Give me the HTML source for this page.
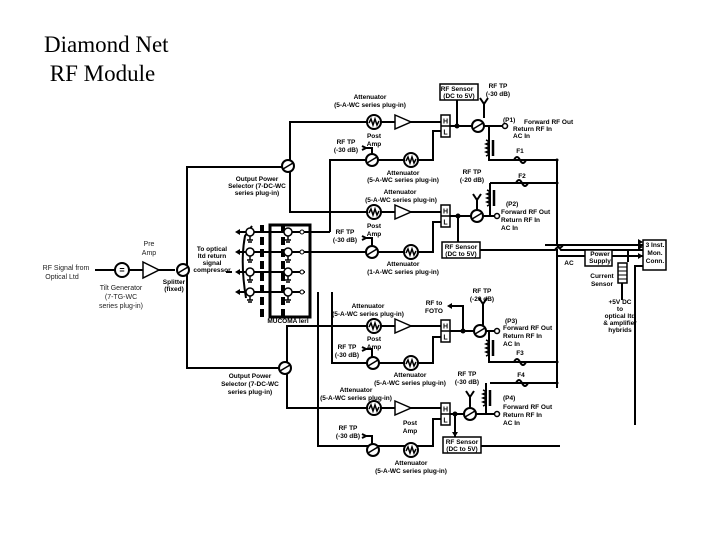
<!DOCTYPE html>
<html><head><style>
html,body{margin:0;padding:0;background:#fff;}
svg{display:block}
.t{font-family:"Liberation Sans",sans-serif;font-size:6.5px;font-weight:bold;fill:#000;text-anchor:middle}
.l{font-family:"Liberation Sans",sans-serif;font-size:7px;fill:#222;text-anchor:middle}
</style></head><body>
<svg width="720" height="540" viewBox="0 0 720 540" xmlns="http://www.w3.org/2000/svg">
<defs>
<g id="att"><circle r="7" fill="#fff" stroke="#000" stroke-width="2"/><path d="M-5,1 L-3,-3 L-1,3 L1,-3 L3,3 L5,-1" fill="none" stroke="#000" stroke-width="1.5"/></g>
<g id="cpl"><circle r="6" fill="#fff" stroke="#000" stroke-width="2"/><path d="M-5,3 L5,-3" stroke="#000" stroke-width="1.5"/></g>
<g id="amp"><path d="M0,-7 L16,0 L0,7 Z" fill="#fff" stroke="#000" stroke-width="1.5"/></g>
<g id="hl"><rect x="0" y="0" width="9" height="22" fill="#fff" stroke="#000" stroke-width="1.5"/><line x1="0" y1="11" x2="9" y2="11" stroke="#000" stroke-width="1.5"/><text x="4.5" y="8.5" class="t" style="font-size:7px">H</text><text x="4.5" y="19.5" class="t" style="font-size:7px">L</text></g>
<g id="coil"><path d="M0,0 q5,2 0,4 q5,2 0,4 q5,2 0,4 q5,2 0,4" fill="none" stroke="#000" stroke-width="1.5"/><line x1="7" y1="0" x2="7" y2="16" stroke="#000" stroke-width="2.5"/></g>
<g id="fuse"><path d="M-9,0 L-6,0 q3,-6 6,0 q3,6 6,0 L9,0" fill="none" stroke="#000" stroke-width="2"/></g>
<g id="sw"><circle cx="0" cy="0" r="4" fill="#fff" stroke="#000" stroke-width="1.5"/><path d="M0,4 L0,8 M-3,8 L3,8 M-2,10 L2,10" stroke="#000" stroke-width="1.5"/></g>
</defs>

<text x="44" y="52" style="font-family:'Liberation Serif',serif;font-size:23px">Diamond Net</text>
<text x="44" y="81" style="font-family:'Liberation Serif',serif;font-size:23px" xml:space="preserve"> RF Module</text>

<g stroke="#000" stroke-width="2" fill="none">
<path d="M95,270 L175,270"/>
<path d="M187,270 L187,167 L282,167"/>
<path d="M187,270 L187,368 L279,368"/>
<path d="M290,160 L290,122 L441,122"/>
<path d="M290,172 L290,212 L441,212"/>
<path d="M330,232 L330,160 L433,160 L433,131 L441,131"/>
<path d="M305,252 L433,252 L433,222 L441,222"/>
<path d="M450,126 L503,126"/>
<path d="M457,126 L457,100"/>
<path d="M484,118 L484,102 M480,98 L484,104 L488,98"/>
<path d="M489,126 L489,160 L557,160"/>
<path d="M490,183 L557,183"/>
<path d="M450,216 L495,216"/>
<path d="M490,216 L490,183"/>
<path d="M458,216 L458,242"/>
<path d="M477,210 L477,198 M473,194 L477,200 L481,194"/>
<path d="M557,160 L557,245 q3,5 6,0 L563,245"/>
<path d="M557,249 L557,388"/>
<path d="M480,250 L555,250 q3,-5 6,0 L643,250"/>
<path d="M545,245 L643,245"/>
<path d="M557,256 L585,256"/>
<path d="M612,256 L643,256"/>
<path d="M622,282 L622,300"/>
<path d="M628,262 L628,250 L643,250"/>
<path d="M635,425 L635,266 L643,266"/>
<path d="M287,362 L287,326 L441,326"/>
<path d="M287,374 L287,408 L441,408"/>
<path d="M332,292 L332,363 L433,363 L433,337 L441,337"/>
<path d="M318,292 L318,446 L433,446 L433,419 L441,419"/>
<path d="M450,331 L495,331"/>
<path d="M463,331 L463,306 L452,306"/>
<path d="M483,325 L483,302 M479,298 L483,304 L487,298"/>
<path d="M489,331 L489,362 L557,362"/>
<path d="M490,383 L557,383"/>
<path d="M450,414 L495,414"/>
<path d="M486,414 L486,383"/>
<path d="M455,414 L455,437"/>
<path d="M470,408 L470,395 M466,391 L470,397 L474,391"/>
<path d="M480,446 L560,446"/>
<path d="M362,146 L366,148 L362,150 M366,148 L372,148 L372,154"/>
<path d="M362,236 L366,238 L362,240 M366,238 L372,238 L372,246"/>
<path d="M362,347 L366,349 L362,351 M366,349 L372,349 L372,357"/>
<path d="M362,434 L366,436 L362,438 M366,436 L372,436 L372,444"/>
<path d="M238,232 L305,232 M238,252 L305,252 M238,272 L305,272 M238,292 L305,292"/>
<path d="M330,232 L305,232"/>
<path d="M252,226 L245,236 Q240,262 246,298"/>
<rect x="270" y="225" width="40" height="92" stroke-width="3"/>
<path d="M262,225 L262,320" stroke-width="4" stroke-dasharray="8,4"/>
<path d="M283,225 L283,320" stroke-width="4" stroke-dasharray="8,4"/>
<path d="M232,272 L226,272"/>
</g>
<g fill="#000">
<path d="M236,229 L241,232 L236,235Z" transform="rotate(180 238 232)"/>
<path d="M236,249 L241,252 L236,255Z" transform="rotate(180 238 252)"/>
<path d="M236,269 L241,272 L236,275Z" transform="rotate(180 238 272)"/>
<path d="M236,289 L241,292 L236,295Z" transform="rotate(180 238 292)"/>
<circle cx="457" cy="126" r="2.5"/><circle cx="458" cy="216" r="2.5"/><circle cx="463" cy="331" r="2.5"/><circle cx="455" cy="414" r="2.5"/>
<circle cx="557" cy="160" r="1.5"/><circle cx="557" cy="183" r="1.5"/><circle cx="557" cy="362" r="1.5"/><circle cx="557" cy="383" r="1.5"/>
<path d="M452,303 L447,306 L452,309Z"/>
<path d="M455,437 L452,432 L458,432Z"/>
<path d="M643,242 L638,239 L638,245Z M643,247 L638,244 L638,250Z M643,256 L638,253 L638,259Z"/>
</g>
<g>
<use href="#sw" x="250" y="232"/><use href="#sw" x="250" y="252"/><use href="#sw" x="250" y="272"/><use href="#sw" x="250" y="292"/>
<use href="#sw" x="288" y="232"/><use href="#sw" x="288" y="252"/><use href="#sw" x="288" y="272"/><use href="#sw" x="288" y="292"/>
<circle cx="302" cy="232" r="2" fill="#fff" stroke="#000"/><circle cx="302" cy="252" r="2" fill="#fff" stroke="#000"/><circle cx="302" cy="272" r="2" fill="#fff" stroke="#000"/><circle cx="302" cy="292" r="2" fill="#fff" stroke="#000"/>
</g>
<circle cx="122" cy="270" r="7" fill="#fff" stroke="#000" stroke-width="2"/><text x="122" y="273" class="t" style="font-size:9px">=</text>
<path d="M143,262 L159,270 L143,278Z" fill="#fff" stroke="#000" stroke-width="1.5"/>
<use href="#cpl" x="183" y="270"/>
<use href="#cpl" x="288" y="166"/>
<use href="#cpl" x="285" y="368"/>
<use href="#att" x="374" y="122"/><use href="#amp" x="395" y="122"/><use href="#hl" x="441" y="115"/>
<use href="#cpl" x="372" y="160"/><use href="#att" x="411" y="160"/>
<use href="#att" x="374" y="212"/><use href="#amp" x="395" y="212"/><use href="#hl" x="441" y="205"/>
<use href="#cpl" x="372" y="252"/><use href="#att" x="411" y="252"/>
<use href="#att" x="374" y="326"/><use href="#amp" x="395" y="326"/><use href="#hl" x="441" y="320"/>
<use href="#cpl" x="373" y="363"/><use href="#att" x="411" y="363"/>
<use href="#att" x="374" y="408"/><use href="#amp" x="395" y="408"/><use href="#hl" x="441" y="403"/>
<use href="#cpl" x="373" y="450"/><use href="#att" x="411" y="450"/>
<use href="#cpl" x="478" y="126"/><use href="#cpl" x="477" y="216"/><use href="#cpl" x="480" y="331"/><use href="#cpl" x="470" y="414"/>
<circle cx="505" cy="126" r="2.5" fill="#fff" stroke="#000" stroke-width="1.5"/>
<circle cx="497" cy="216" r="2.5" fill="#fff" stroke="#000" stroke-width="1.5"/>
<circle cx="497" cy="331" r="2.5" fill="#fff" stroke="#000" stroke-width="1.5"/>
<circle cx="497" cy="414" r="2.5" fill="#fff" stroke="#000" stroke-width="1.5"/>
<use href="#coil" x="486" y="140"/><use href="#coil" x="487" y="190"/><use href="#coil" x="486" y="340"/><use href="#coil" x="483" y="390"/>
<use href="#fuse" x="520" y="160"/><use href="#fuse" x="522" y="183"/><use href="#fuse" x="520" y="362"/><use href="#fuse" x="522" y="383"/>
<g fill="#fff" stroke="#000" stroke-width="1.5">
<rect x="440" y="84" width="38" height="16"/>
<rect x="442" y="242" width="38" height="16"/>
<rect x="443" y="437" width="38" height="16"/>
<rect x="585" y="250" width="27" height="16"/>
<rect x="643" y="240" width="23" height="30"/>
<rect x="618" y="263" width="9" height="20"/>
</g>
<path d="M618,267 h9 M618,271 h9 M618,275 h9 M618,279 h9" stroke="#000"/>
<g class="t">
<text x="457" y="91">RF Sensor</text><text x="459" y="98">(DC to 5V)</text>
<text x="461" y="249">RF Sensor</text><text x="461" y="256">(DC to 5V)</text>
<text x="462" y="444">RF Sensor</text><text x="462" y="451">(DC to 5V)</text>
<text x="498" y="88">RF TP</text><text x="498" y="96">(-30 dB)</text>
<text x="370" y="99">Attenuator</text><text x="370" y="107">(5-A-WC series plug-in)</text>
<text x="374" y="138">Post</text><text x="374" y="146">Amp</text>
<text x="346" y="144">RF TP</text><text x="346" y="152">(-30 dB)</text>
<text x="403" y="175">Attenuator</text><text x="403" y="182">(5-A-WC series plug-in)</text>
<text x="400" y="194">Attenuator</text><text x="401" y="202">(5-A-WC series plug-in)</text>
<text x="374" y="228">Post</text><text x="374" y="236">Amp</text>
<text x="345" y="234">RF TP</text><text x="345" y="242">(-30 dB)</text>
<text x="403" y="266">Attenuator</text><text x="403" y="274">(1-A-WC series plug-in)</text>
<text x="472" y="174">RF TP</text><text x="472" y="182">(-20 dB)</text>
<text x="257" y="181">Output Power</text><text x="257" y="188">Selector (7-DC-WC</text><text x="257" y="195">series plug-in)</text>
<text x="524" y="124" style="text-anchor:start">Forward RF Out</text><text x="513" y="131" style="text-anchor:start">Return RF In</text><text x="513" y="138" style="text-anchor:start">AC In</text>
<text x="503" y="122" style="text-anchor:start">(P1)</text>
<text x="520" y="153">F1</text><text x="522" y="178">F2</text><text x="520" y="355">F3</text><text x="521" y="377">F4</text>
<text x="506" y="206" style="text-anchor:start">(P2)</text>
<text x="501" y="214" style="text-anchor:start">Forward RF Out</text><text x="501" y="222" style="text-anchor:start">Return RF In</text><text x="501" y="230" style="text-anchor:start">AC In</text>
<text x="600" y="256">Power</text><text x="600" y="263">Supply</text>
<text x="655" y="247">3 Inst.</text><text x="655" y="255">Mon.</text><text x="655" y="263">Conn.</text>
<text x="569" y="265">AC</text>
<text x="602" y="278">Current</text><text x="602" y="286">Sensor</text>
<text x="620" y="304">+5V DC</text><text x="620" y="311">to</text><text x="620" y="318">optical ltd</text><text x="620" y="325">&amp; amplifier</text><text x="620" y="332">hybrids</text>
<text x="482" y="293">RF TP</text><text x="482" y="301">(-20 dB)</text>
<text x="434" y="305">RF to</text><text x="434" y="313">FOTO</text>
<text x="368" y="308">Attenuator</text><text x="368" y="316">(5-A-WC series plug-in)</text>
<text x="374" y="341">Post</text><text x="374" y="349">Amp</text>
<text x="347" y="349">RF TP</text><text x="347" y="357">(-30 dB)</text>
<text x="505" y="323" style="text-anchor:start">(P3)</text>
<text x="503" y="330" style="text-anchor:start">Forward RF Out</text><text x="503" y="338" style="text-anchor:start">Return RF In</text><text x="503" y="346" style="text-anchor:start">AC In</text>
<text x="410" y="377">Attenuator</text><text x="410" y="385">(5-A-WC series plug-in)</text>
<text x="467" y="376">RF TP</text><text x="467" y="384">(-30 dB)</text>
<text x="250" y="378">Output Power</text><text x="250" y="386">Selector (7-DC-WC</text><text x="250" y="394">series plug-in)</text>
<text x="356" y="392">Attenuator</text><text x="356" y="400">(5-A-WC series plug-in)</text>
<text x="410" y="425">Post</text><text x="410" y="433">Amp</text>
<text x="348" y="430">RF TP</text><text x="348" y="438">(-30 dB)</text>
<text x="503" y="400" style="text-anchor:start">(P4)</text>
<text x="503" y="409" style="text-anchor:start">Forward RF Out</text><text x="503" y="417" style="text-anchor:start">Return RF In</text><text x="503" y="425" style="text-anchor:start">AC In</text>
<text x="411" y="465">Attenuator</text><text x="411" y="473">(5-A-WC series plug-in)</text>
<text x="212" y="251">To optical</text><text x="212" y="258">ltd return</text><text x="212" y="265">signal</text><text x="212" y="272">compressor</text>
<text x="174" y="284">Splitter</text><text x="174" y="291">(fixed)</text>
<text x="288" y="323">MUCOMA lerl</text>
</g>
<g class="l">
<text x="66" y="270">RF Signal from</text><text x="62" y="279">Optical Ltd</text>
<text x="149" y="246">Pre</text><text x="149" y="255">Amp</text>
<text x="121" y="290">Tilt Generator</text><text x="121" y="299">(7-TG-WC</text><text x="121" y="308">series plug-in)</text>
</g>
</svg>
</body></html>
